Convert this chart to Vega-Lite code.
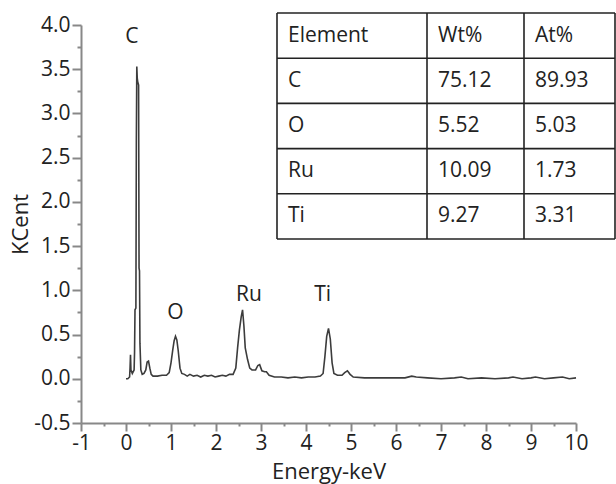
{
  "$schema": "https://vega.github.io/schema/vega-lite/v6.json",
  "width": 495,
  "height": 398,
  "autosize": {"type": "none"},
  "padding": {"left": 81, "top": 25, "right": 40, "bottom": 61},
  "config": {"view": {"stroke": null}, "font": "Open Sans"},
  "datasets": {
    "spectrum": [
      {"E": 0.00, "c": 0.00}, {"E": 0.04, "c": 0.00}, {"E": 0.08, "c": 0.02}, {"E": 0.09, "c": 0.12},
      {"E": 0.10, "c": 0.27}, {"E": 0.11, "c": 0.10}, {"E": 0.14, "c": 0.06}, {"E": 0.18, "c": 0.10},
      {"E": 0.19, "c": 0.30}, {"E": 0.20, "c": 0.78}, {"E": 0.22, "c": 0.80}, {"E": 0.23, "c": 2.70},
      {"E": 0.24, "c": 3.53}, {"E": 0.25, "c": 3.40}, {"E": 0.26, "c": 3.36}, {"E": 0.28, "c": 3.32},
      {"E": 0.29, "c": 1.25}, {"E": 0.30, "c": 1.22}, {"E": 0.31, "c": 0.40}, {"E": 0.33, "c": 0.10},
      {"E": 0.36, "c": 0.05}, {"E": 0.40, "c": 0.06}, {"E": 0.44, "c": 0.10}, {"E": 0.47, "c": 0.19},
      {"E": 0.50, "c": 0.20}, {"E": 0.53, "c": 0.12}, {"E": 0.56, "c": 0.05}, {"E": 0.60, "c": 0.03},
      {"E": 0.70, "c": 0.03}, {"E": 0.80, "c": 0.04}, {"E": 0.90, "c": 0.04}, {"E": 0.96, "c": 0.07},
      {"E": 1.00, "c": 0.18}, {"E": 1.04, "c": 0.33}, {"E": 1.07, "c": 0.43}, {"E": 1.10, "c": 0.48},
      {"E": 1.13, "c": 0.44}, {"E": 1.16, "c": 0.32}, {"E": 1.20, "c": 0.12}, {"E": 1.24, "c": 0.06},
      {"E": 1.30, "c": 0.05}, {"E": 1.36, "c": 0.03}, {"E": 1.42, "c": 0.05}, {"E": 1.50, "c": 0.03},
      {"E": 1.58, "c": 0.04}, {"E": 1.66, "c": 0.02}, {"E": 1.74, "c": 0.04}, {"E": 1.82, "c": 0.03},
      {"E": 1.90, "c": 0.04}, {"E": 1.98, "c": 0.02}, {"E": 2.06, "c": 0.03}, {"E": 2.14, "c": 0.04},
      {"E": 2.22, "c": 0.03}, {"E": 2.30, "c": 0.05}, {"E": 2.38, "c": 0.05}, {"E": 2.44, "c": 0.12},
      {"E": 2.48, "c": 0.35}, {"E": 2.52, "c": 0.55}, {"E": 2.56, "c": 0.70}, {"E": 2.59, "c": 0.78},
      {"E": 2.62, "c": 0.60}, {"E": 2.65, "c": 0.35}, {"E": 2.70, "c": 0.22}, {"E": 2.75, "c": 0.12},
      {"E": 2.80, "c": 0.10}, {"E": 2.88, "c": 0.10}, {"E": 2.93, "c": 0.15}, {"E": 2.97, "c": 0.16},
      {"E": 3.02, "c": 0.09}, {"E": 3.08, "c": 0.08}, {"E": 3.12, "c": 0.08}, {"E": 3.18, "c": 0.04},
      {"E": 3.30, "c": 0.02}, {"E": 3.45, "c": 0.02}, {"E": 3.60, "c": 0.01}, {"E": 3.75, "c": 0.02},
      {"E": 3.90, "c": 0.01}, {"E": 4.05, "c": 0.02}, {"E": 4.20, "c": 0.02}, {"E": 4.32, "c": 0.03},
      {"E": 4.38, "c": 0.06}, {"E": 4.42, "c": 0.25}, {"E": 4.46, "c": 0.48}, {"E": 4.50, "c": 0.57},
      {"E": 4.54, "c": 0.45}, {"E": 4.58, "c": 0.18}, {"E": 4.62, "c": 0.06}, {"E": 4.70, "c": 0.04},
      {"E": 4.80, "c": 0.04}, {"E": 4.86, "c": 0.07}, {"E": 4.92, "c": 0.09}, {"E": 4.98, "c": 0.05},
      {"E": 5.05, "c": 0.02}, {"E": 5.30, "c": 0.01}, {"E": 5.60, "c": 0.01}, {"E": 5.90, "c": 0.01},
      {"E": 6.20, "c": 0.01}, {"E": 6.35, "c": 0.03}, {"E": 6.45, "c": 0.02}, {"E": 6.70, "c": 0.01},
      {"E": 7.00, "c": 0.00}, {"E": 7.30, "c": 0.01}, {"E": 7.45, "c": 0.02}, {"E": 7.60, "c": 0.00},
      {"E": 7.90, "c": 0.01}, {"E": 8.20, "c": 0.00}, {"E": 8.50, "c": 0.01}, {"E": 8.60, "c": 0.02},
      {"E": 8.80, "c": 0.00}, {"E": 9.00, "c": 0.01}, {"E": 9.10, "c": 0.02}, {"E": 9.30, "c": 0.00},
      {"E": 9.50, "c": 0.01}, {"E": 9.70, "c": 0.02}, {"E": 9.85, "c": 0.00}, {"E": 10.0, "c": 0.01}
    ],
    "peaks": [
      {"label": "C", "E": 0.13, "c": 3.86},
      {"label": "O", "E": 1.10, "c": 0.74},
      {"label": "Ru", "E": 2.73, "c": 0.95},
      {"label": "Ti", "E": 4.37, "c": 0.95}
    ],
    "cells": [
      {"r": 0, "col": 0, "t": "Element"}, {"r": 0, "col": 1, "t": "Wt%"}, {"r": 0, "col": 2, "t": "At%"},
      {"r": 1, "col": 0, "t": "C"}, {"r": 1, "col": 1, "t": "75.12"}, {"r": 1, "col": 2, "t": "89.93"},
      {"r": 2, "col": 0, "t": "O"}, {"r": 2, "col": 1, "t": "5.52"}, {"r": 2, "col": 2, "t": "5.03"},
      {"r": 3, "col": 0, "t": "Ru"}, {"r": 3, "col": 1, "t": "10.09"}, {"r": 3, "col": 2, "t": "1.73"},
      {"r": 4, "col": 0, "t": "Ti"}, {"r": 4, "col": 1, "t": "9.27"}, {"r": 4, "col": 2, "t": "3.31"}
    ],
    "colLines": [{"col": 0}, {"col": 1}, {"col": 2}, {"col": 3}],
    "rowLines": [{"b": -0.5}, {"b": 0.5}, {"b": 1.5}, {"b": 2.5}, {"b": 3.5}, {"b": 4.5}]
  },
  "layer": [
    {
      "layer": [
        {
          "data": {"name": "spectrum"},
          "mark": {"type": "line", "stroke": "#3c3c3c", "strokeWidth": 1.6, "interpolate": "linear"},
          "encoding": {
            "x": {
              "field": "E", "type": "quantitative",
              "scale": {"domain": [-1, 10], "nice": false, "zero": false},
              "axis": {
                "values": [-1, 0, 1, 2, 3, 4, 5, 6, 7, 8, 9, 10],
                "labelExpr": "datum.value < 0 ? '-' + format(-datum.value, 'd') : format(datum.value, 'd')",
                "title": "Energy-keV", "titleFontSize": 22, "titleFontWeight": "normal", "titleColor": "#222",
                "titleFont": "Open Sans", "titlePadding": 8,
                "labelFontSize": 21, "labelFont": "Open Sans", "labelColor": "#222", "labelPadding": 1,
                "tickSize": 8, "tickWidth": 2, "tickColor": "#888", "domainColor": "#888", "domainWidth": 2,
                "grid": false, "labelFlush": false, "labelOverlap": false
              }
            },
            "y": {
              "field": "c", "type": "quantitative",
              "scale": {"domain": [-0.5, 4], "nice": false, "zero": false},
              "axis": {
                "values": [-0.5, 0, 0.5, 1, 1.5, 2, 2.5, 3, 3.5, 4],
                "labelExpr": "datum.value < 0 ? '-' + format(-datum.value, '.1f') : format(datum.value, '.1f')",
                "title": "KCent", "titleFontSize": 22, "titleFontWeight": "normal", "titleColor": "#222",
                "titleFont": "Open Sans", "titlePadding": 1,
                "labelFontSize": 21, "labelFont": "Open Sans", "labelColor": "#222", "labelPadding": 2,
                "tickSize": 9, "tickWidth": 2, "tickColor": "#888", "domainColor": "#888", "domainWidth": 2,
                "grid": false, "labelFlush": false, "labelOverlap": false
              }
            }
          }
        },
        {
          "data": {"name": "peaks"},
          "mark": {"type": "text", "fontSize": 21, "font": "Open Sans", "color": "#222", "align": "center", "baseline": "middle"},
          "encoding": {
            "x": {
              "field": "E", "type": "quantitative",
              "axis": {
                "orient": "bottom", "values": [-0.5, 0.5, 1.5, 2.5, 3.5, 4.5, 5.5, 6.5, 7.5, 8.5, 9.5],
                "labels": false, "domain": false, "title": null, "tickSize": 3, "tickWidth": 2, "tickColor": "#888", "grid": false
              }
            },
            "y": {
              "field": "c", "type": "quantitative",
              "axis": {
                "orient": "left", "values": [-0.25, 0.25, 0.75, 1.25, 1.75, 2.25, 2.75, 3.25, 3.75],
                "labels": false, "domain": false, "title": null, "tickSize": 4, "tickWidth": 2, "tickColor": "#888", "grid": false
              }
            },
            "text": {"field": "label"}
          }
        }
      ],
      "resolve": {"axis": {"x": "independent", "y": "independent"}}
    },
    {
      "layer": [
        {
          "data": {"name": "colLines"},
          "mark": {"type": "rule", "stroke": "#222", "strokeWidth": 1.6},
          "encoding": {
            "x": {"field": "col", "type": "quantitative", "axis": null,
                  "scale": {"domain": [0, 1, 2, 3], "range": [196, 346, 443, 534]}},
            "y": {"datum": -0.5, "type": "quantitative", "axis": null,
                  "scale": {"domain": [-0.5, 4.5], "range": [-12, 214]}},
            "y2": {"datum": 4.5}
          }
        },
        {
          "data": {"name": "rowLines"},
          "mark": {"type": "rule", "stroke": "#222", "strokeWidth": 1.6},
          "encoding": {
            "y": {"field": "b", "type": "quantitative", "axis": null},
            "x": {"datum": 0, "type": "quantitative", "axis": null},
            "x2": {"datum": 3}
          }
        },
        {
          "data": {"name": "cells"},
          "mark": {"type": "text", "fontSize": 21, "font": "Open Sans", "color": "#222", "align": "left", "baseline": "middle", "dx": 11},
          "encoding": {
            "x": {"field": "col", "type": "quantitative", "axis": null},
            "y": {"field": "r", "type": "quantitative", "axis": null},
            "text": {"field": "t"}
          }
        }
      ]
    }
  ],
  "resolve": {"scale": {"x": "independent", "y": "independent"}}
}
